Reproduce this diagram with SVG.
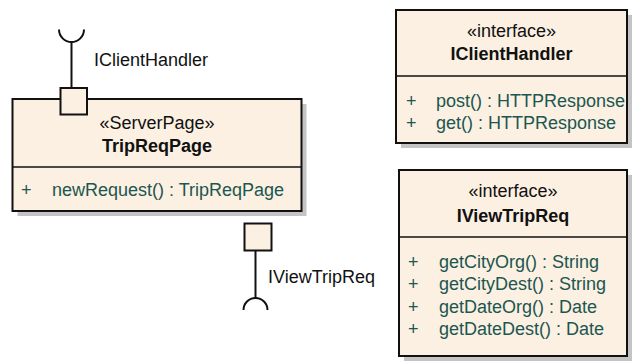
<svg xmlns="http://www.w3.org/2000/svg" width="632" height="361" viewBox="0 0 632 361">
<style>
.box{fill:#fbf0e2;stroke:#111;stroke-width:2}
.shadow{fill:#c4c4c4}
.div{stroke:#111;stroke-width:1.5}
.line{stroke:#111;stroke-width:2;fill:none}
text{font-family:"Liberation Sans",Arial,sans-serif;font-size:18px;fill:#111}
.c{text-anchor:middle}
.b{font-weight:bold}
.m{fill:#1b5650}
</style>
<rect width="632" height="361" fill="#fff"/>
<g id="TripReqPage">
<rect class="shadow" x="17.5" y="104" width="289" height="112"/>
<rect class="box" x="12.5" y="99" width="289" height="112"/>
<line class="div" x1="12.5" y1="167" x2="301.5" y2="167"/>
<text class="c" x="157" y="129">«ServerPage»</text>
<text class="c b" x="157" y="152">TripReqPage</text>
<text class="m" x="21" y="196">+</text>
<text class="m" x="52" y="196">newRequest() : TripReqPage</text>
</g>
<g id="port1">
<rect class="box" x="60.5" y="88" width="26.5" height="26.5"/>
</g>
<g id="port2">
<rect class="box" x="244.5" y="223.5" width="27" height="27"/>
</g>
<g id="connectors">
<line class="line" x1="71.5" y1="42" x2="71.5" y2="88"/>
<path class="line" d="M59 29.5 A12.5 12.5 0 0 0 84 29.5"/>
<line class="line" x1="255.5" y1="250.5" x2="255.5" y2="298"/>
<path class="line" d="M243.5 310 A12 12 0 0 1 267.5 310"/>
</g>
<g id="labels">
<text x="94" y="66">IClientHandler</text>
<text x="268" y="283">IViewTripReq</text>
</g>
<g id="IClientHandler">
<rect class="shadow" x="401" y="15" width="231" height="133"/>
<rect class="box" x="396" y="10" width="231" height="133"/>
<line class="div" x1="396" y1="76" x2="627" y2="76"/>
<text class="c" x="511.5" y="37">«interface»</text>
<text class="c b" x="511.5" y="60">IClientHandler</text>
<text class="m" x="406" y="107">+</text>
<text class="m" x="436" y="107">post() : HTTPResponse</text>
<text class="m" x="406" y="129">+</text>
<text class="m" x="436" y="129">get() : HTTPResponse</text>
</g>
<g id="IViewTripReq">
<rect class="shadow" x="404" y="175" width="228" height="186"/>
<rect class="box" x="399" y="170" width="228" height="186"/>
<line class="div" x1="399" y1="237" x2="627" y2="237"/>
<text class="c" x="513" y="197">«interface»</text>
<text class="c b" x="513" y="222">IViewTripReq</text>
<text class="m" x="408" y="268">+</text>
<text class="m" x="439" y="268">getCityOrg() : String</text>
<text class="m" x="408" y="290">+</text>
<text class="m" x="439" y="290">getCityDest() : String</text>
<text class="m" x="408" y="313">+</text>
<text class="m" x="439" y="313">getDateOrg() : Date</text>
<text class="m" x="408" y="335">+</text>
<text class="m" x="439" y="335">getDateDest() : Date</text>
</g>
</svg>
